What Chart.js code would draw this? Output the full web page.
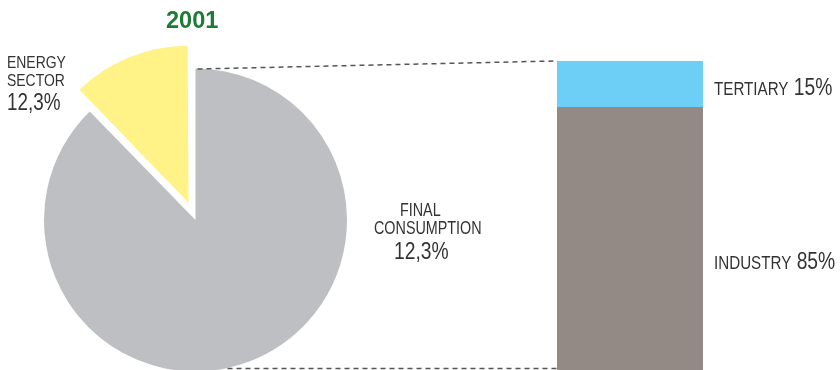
<!DOCTYPE html>
<html>
<head>
<meta charset="utf-8">
<script src="https://cdn.jsdelivr.net/npm/chart.js@4.4.1/dist/chart.umd.min.js"></script>
<style>
  html, body { margin: 0; padding: 0; background: #ffffff; }
  #wrap { position: relative; width: 840px; height: 370px; overflow: hidden; }
  #wrap canvas { position: absolute; left: 0; top: 0; }
  .lbl { position: absolute; white-space: nowrap; line-height: 1; color: #333333;
         font-family: "Liberation Sans", Arial, sans-serif; transform-origin: 0 0; }
</style>
</head>
<body>
<div id="wrap">
  <canvas id="pie" width="840" height="370"></canvas>
  <canvas id="bar" width="840" height="370"></canvas>
</div>
<script>
// ---- data ----
const pieLabels = ["FINAL CONSUMPTION", "ENERGY SECTOR"];
const pieValues = [87.7, 12.3];
const pieColors = ["#bebfc3", "#fff387"];

const barCategories = ["2001"];
const industryValues = [85];
const tertiaryValues = [15];
const barColors = { industry: "#948a85", tertiary: "#6dcff6" };

const titleText = "2001";

// ---- pie ----
const pieChart = new Chart(document.getElementById("pie"), {
  type: "pie",
  data: {
    labels: pieLabels,
    datasets: [{
      data: pieValues,
      backgroundColor: pieColors,
      borderWidth: 0,
      offset: [0, 74],
      hoverOffset: 0,
      clip: false
    }]
  },
  options: {
    responsive: false,
    animation: false,
    events: [],
    radius: 151.5,
    layout: { padding: { left: 45, right: 494, top: 70, bottom: 0 } },
    plugins: { legend: { display: false }, tooltip: { enabled: false }, title: { display: false } }
  }
});

// ---- connector lines plugin ----
const connectors = {
  id: "connectors",
  afterDraw(chart) {
    const arc = pieChart.getDatasetMeta(0).data[0];
    const cx = arc.x, cy = arc.y, r = arc.outerRadius;
    const top = chart.getDatasetMeta(1).data[0];
    const bot = chart.getDatasetMeta(0).data[0];
    const left = top.x - top.width / 2;
    const ctx = chart.ctx;
    ctx.save();
    ctx.strokeStyle = "#555555";
    ctx.lineWidth = 1.5;
    ctx.setLineDash([5, 4]);
    ctx.beginPath();
    ctx.moveTo(cx + 2, cy - r + 0.5);
    ctx.lineTo(left - 3, top.y);
    ctx.stroke();
    const yb = bot.base - 1.5;
    const xb = cx + Math.sqrt(Math.max(r * r - (yb - cy) * (yb - cy), 0));
    ctx.beginPath();
    ctx.moveTo(xb + 2, yb);
    ctx.lineTo(left, yb);
    ctx.stroke();
    ctx.restore();
  }
};

// ---- stacked bar ----
const barChart = new Chart(document.getElementById("bar"), {
  type: "bar",
  data: {
    labels: barCategories,
    datasets: [
      { label: "INDUSTRY", data: industryValues, backgroundColor: barColors.industry, borderWidth: 0 },
      { label: "TERTIARY", data: tertiaryValues, backgroundColor: barColors.tertiary, borderWidth: 0 }
    ]
  },
  options: {
    responsive: false,
    animation: false,
    events: [],
    barPercentage: 1,
    categoryPercentage: 1,
    layout: { padding: { left: 557, right: 137, top: 61, bottom: 0 } },
    scales: {
      x: { stacked: true, display: false },
      y: { stacked: true, display: false, min: 0, max: 100 }
    },
    plugins: { legend: { display: false }, tooltip: { enabled: false } }
  },
  plugins: [connectors]
});

// ---- text labels (positioned by baseline) ----
const wrap = document.getElementById("wrap");
function label(html, size, x, baseline, opts) {
  opts = opts || {};
  const sx = opts.scale === undefined ? 0.82 : opts.scale;
  const d = document.createElement("div");
  d.className = "lbl";
  d.innerHTML = html;
  d.style.fontSize = size + "px";
  d.style.top = (baseline - 0.8465 * size) + "px";
  d.style.transform = "scaleX(" + sx + ")";
  if (opts.weight) d.style.fontWeight = opts.weight;
  if (opts.color) d.style.color = opts.color;
  wrap.appendChild(d);
  if (opts.center) {
    d.style.left = (x - d.offsetWidth * sx / 2) + "px";
  } else {
    d.style.left = x + "px";
  }
  return d;
}
label(titleText, 24, 191.5, 28, { center: true, weight: "bold", color: "#1d7b36", scale: 0.98 });
label("ENERGY", 17, 6.5, 68.5);
label("SECTOR", 17, 6.5, 86.5);
label("12,3%", 23, 6.5, 110);
label("FINAL", 17.5, 420.5, 217, { center: true });
label("CONSUMPTION", 17.5, 428, 234.5, { center: true });
label("12,3%", 23.5, 421.5, 260, { center: true });
label('<span style="font-size:18.5px">TERTIARY</span> 15%', 23.5, 714, 96);
label('<span style="font-size:18.5px">INDUSTRY</span> 85%', 23.5, 714, 270);
</script>
</body>
</html>
